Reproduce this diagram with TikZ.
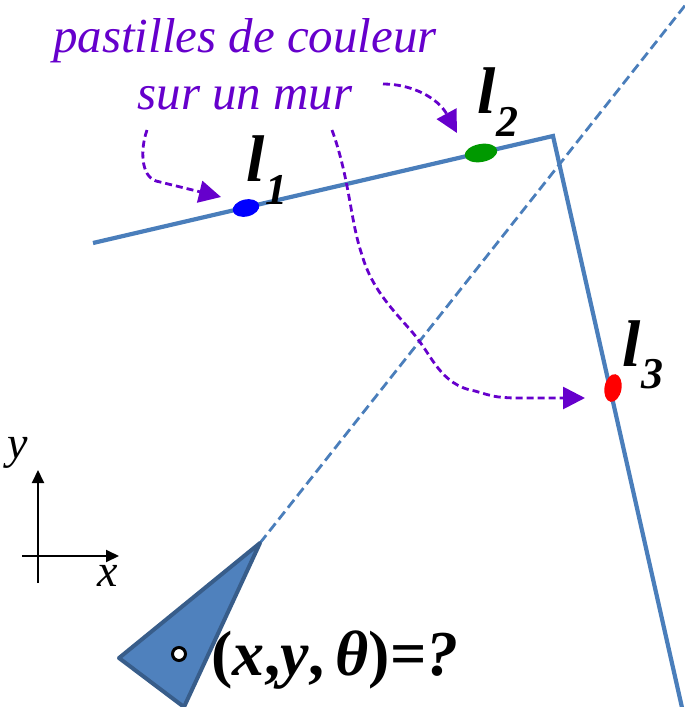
\documentclass[tikz,border=0pt]{standalone}
\usepackage{fontspec}
\setmainfont{Liberation Serif}
\usetikzlibrary{arrows.meta, shapes.geometric}
\definecolor{mur}{RGB}{74,126,187}
\definecolor{violet}{RGB}{102,0,204}
\definecolor{robotfill}{RGB}{79,129,189}
\definecolor{robotdraw}{RGB}{56,93,138}
\newcommand{\lname}[1]{\bfseries\itshape l\raisebox{-0.34em}{\fontsize{44}{44}\selectfont #1}}

\begin{document}
\begin{tikzpicture}[x=1pt, y=-1pt,
        pastille/.style={ellipse, inner sep=0pt},
        lbl/.style={font=\fontsize{66}{66}\selectfont, inner sep=0pt},
        fleche/.style={violet, line width=2.8pt, dash pattern=on 7pt off 4pt,
                       -{Triangle[length=22pt, width=22pt]}},
        axe/.style={line width=2pt, -{Triangle[length=13pt, width=12pt]}}
      ]
      \useasboundingbox (0,0) rectangle (685,707);
      % mur et ligne de visee
      \coordinate (m1) at (93,243);
      \coordinate (coin) at (553,136);
      \coordinate (m3) at (683,712);
      \draw[mur, line width=4.2pt] (m1) -- (coin) -- (m3);
      \coordinate (pointe) at (260,543);
      \coordinate (visee) at (687,3);
      \draw[mur, line width=2.8pt, dash pattern=on 10pt off 5pt] (pointe) -- (visee);
      % pastilles
      \node[pastille, fill=blue, minimum width=27pt, minimum height=17pt, rotate=13] (p1) at (246,208) {};
      \node[pastille, fill=green!60!black, minimum width=33pt, minimum height=18pt, rotate=10] (p2) at (481,153) {};
      \node[pastille, fill=red, minimum width=17pt, minimum height=28pt, rotate=-10] (p3) at (613,388) {};
      \node[lbl] (l1) at (267,170) {\lname{1}};
      \node[lbl] (l2) at (498,102) {\lname{2}};
      \node[lbl] (l3) at (643,355) {\lname{3}};
      % legende
      \node[violet, align=center, font=\fontsize{49}{57}\selectfont\itshape] (legende) at (245,64)
        {pastilles de couleur\\ sur un mur};
      \coordinate (a1s) at (147,130);
      \coordinate (a1e) at (221,197);
      \coordinate (a2s) at (383,84);
      \coordinate (a2e) at (457,133);
      \coordinate (a3s) at (332,130);
      \coordinate (a3e) at (585,398);
      \draw[fleche] (a1s) .. controls (140,150) and (141,176) .. (156,181) -- (a1e);
      \draw[fleche] (a2s) .. controls (412,84) and (438,98) .. (a2e);
      \draw[fleche] (a3s) .. controls (350,180) and (350,220) .. (362,255)
        .. controls (372,290) and (395,312) .. (413,333)
        .. controls (432,355) and (440,385) .. (475,391)
        .. controls (495,397) .. (513,398) -- (a3e);
      % robot
      \coordinate (gauche) at (119,658);
      \coordinate (bas) at (184,707);
      \draw[robotdraw, fill=robotfill, line width=4pt, line join=round] (pointe) -- (gauche) -- (bas) -- cycle;
      \node[circle, draw=black, fill=white, line width=3pt, minimum size=13pt, inner sep=0pt] (centre) at (179,654) {};
      \node[font=\fontsize{64}{64}\selectfont\bfseries, anchor=west, inner sep=0pt] (pose) at (211,660)
        {(\textit{x},\textit{y},\,\textit{θ})=\textit{?}};
      % repere
      \coordinate (origine) at (38,556);
      \draw[axe] (38,583) -- (38,470) coordinate (ay);
      \draw[axe] (22,556) -- (119,556) coordinate (ax);
      \node[font=\fontsize{46}{46}\selectfont\itshape] (ly) at (18,453) {y};
      \node[font=\fontsize{46}{46}\selectfont\itshape] (lx) at (108,576) {x};
\end{tikzpicture}
\end{document}
